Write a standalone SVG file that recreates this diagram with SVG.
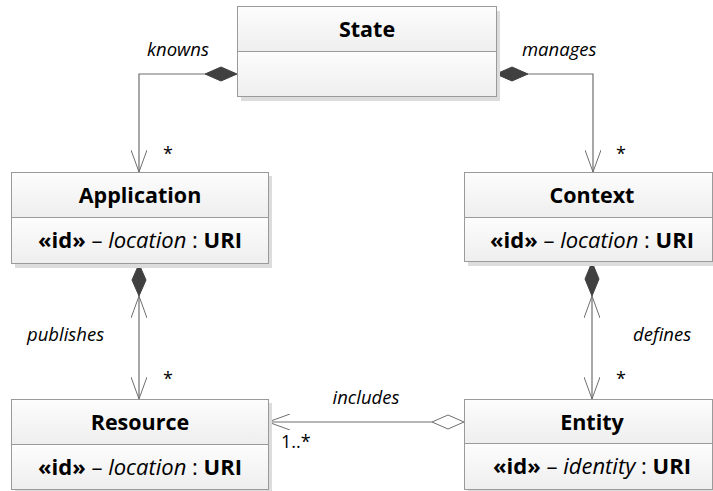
<svg xmlns="http://www.w3.org/2000/svg" width="713" height="491" viewBox="0 0 713 491">
  <defs>
    <linearGradient id="cmp" x1="0" y1="0" x2="0" y2="1">
      <stop offset="0" stop-color="#fdfdfd"/>
      <stop offset="1" stop-color="#eeeeee"/>
    </linearGradient>
    <marker id="open" viewBox="0 0 24 16" refX="22" refY="8" markerWidth="24" markerHeight="16" markerUnits="userSpaceOnUse" orient="auto">
      <path d="M0,0 L22,8 L0,16" fill="none" stroke="#6e6e6e" stroke-width="1"/>
    </marker>
    <marker id="openStart" viewBox="0 0 24 16" refX="2" refY="8" markerWidth="24" markerHeight="16" markerUnits="userSpaceOnUse" orient="auto">
      <path d="M24,0 L2,8 L24,16" fill="none" stroke="#6e6e6e" stroke-width="1"/>
    </marker>
  </defs>
  <style>
    .shadow { fill: #dcdcdc; }
    .box { fill: url(#cmp); stroke: #9a9a9a; stroke-width: 1; }
    .title { font-family: "Open Sans", "Noto Sans", sans-serif; font-weight: bold; font-size: 21.5px; fill: #000; text-anchor: middle; }
    .attr { font-family: "Open Sans", "Noto Sans", sans-serif; font-size: 22px; fill: #000; text-anchor: middle; }
    .b { font-weight: bold; }
    .i { font-style: italic; }
    .lbl { font-family: "Open Sans", "Noto Sans", sans-serif; font-style: italic; font-size: 18.5px; fill: #000; }
    .mult { font-family: "Open Sans", "Noto Sans", sans-serif; font-size: 18px; fill: #000; }
    .line { fill: none; stroke: #6e6e6e; stroke-width: 1.2; }
    .comp { fill: #404040; stroke: #404040; stroke-width: 1; }
    .agg { fill: #ffffff; stroke: #6e6e6e; stroke-width: 1; }
  </style>

  <!-- connectors -->
  <g id="connectors">
    <!-- State knowns Application -->
    <path class="line" d="M205,74 H139 V172" marker-end="url(#open)"/>
    <path class="comp" d="M237,74 L221,67 L205,74 L221,81 Z"/>
    <!-- State manages Context -->
    <path class="line" d="M528,74 H593 V172" marker-end="url(#open)"/>
    <path class="comp" d="M496,74 L512,67 L528,74 L512,81 Z"/>
    <!-- Application publishes Resource -->
    <path class="line" d="M139,296 V399" marker-start="url(#openStart)" marker-end="url(#open)"/>
    <path class="comp" d="M139,264 L132,280 L139,296 L146,280 Z"/>
    <!-- Context defines Entity -->
    <path class="line" d="M592,296 V399" marker-start="url(#openStart)" marker-end="url(#open)"/>
    <path class="comp" d="M592,262 L585,279 L592,296 L599,279 Z"/>
    <!-- Entity includes Resource -->
    <path class="line" d="M432,422 H268" marker-end="url(#open)"/>
    <path class="agg" d="M464,422 L448,415 L432,422 L448,429 Z"/>

    <text class="lbl" x="147" y="56">knowns</text>
    <text class="lbl" x="522" y="56">manages</text>
    <text class="lbl" x="27" y="341">publishes</text>
    <text class="lbl" x="633" y="341">defines</text>
    <text class="lbl" x="366" y="404" text-anchor="middle">includes</text>
    <text class="mult" x="163" y="160">*</text>
    <text class="mult" x="616" y="160">*</text>
    <text class="mult" x="163" y="385">*</text>
    <text class="mult" x="616" y="385">*</text>
    <text class="mult" x="281" y="448">1..*</text>
  </g>

  <!-- State -->
  <g id="state">
    <rect class="shadow" x="241" y="11" width="259" height="90"/>
    <rect class="box" x="237.5" y="6.5" width="259" height="45"/>
    <rect class="box" x="237.5" y="51.5" width="259" height="45"/>
    <text class="title" x="367" y="37">State</text>
  </g>

  <!-- Application -->
  <g id="application">
    <rect class="shadow" x="15" y="176" width="257" height="92"/>
    <rect class="box" x="11.5" y="172.5" width="257" height="45"/>
    <rect class="box" x="11.5" y="217.5" width="257" height="46"/>
    <text class="title" x="140" y="203">Application</text>
    <text class="attr" x="140" y="248"><tspan class="b">«id»</tspan> – <tspan class="i">location</tspan> : <tspan class="b">URI</tspan></text>
  </g>

  <!-- Context -->
  <g id="context">
    <rect class="shadow" x="468" y="176" width="248" height="90"/>
    <rect class="box" x="464.5" y="172.5" width="248" height="45"/>
    <rect class="box" x="464.5" y="217.5" width="248" height="44"/>
    <text class="title" x="592" y="203">Context</text>
    <text class="attr" x="592" y="248"><tspan class="b">«id»</tspan> – <tspan class="i">location</tspan> : <tspan class="b">URI</tspan></text>
  </g>

  <!-- Resource -->
  <g id="resource">
    <rect class="shadow" x="15" y="403" width="257" height="92"/>
    <rect class="box" x="11.5" y="399.5" width="257" height="45"/>
    <rect class="box" x="11.5" y="444.5" width="257" height="45"/>
    <text class="title" x="140" y="430">Resource</text>
    <text class="attr" x="140" y="475"><tspan class="b">«id»</tspan> – <tspan class="i">location</tspan> : <tspan class="b">URI</tspan></text>
  </g>

  <!-- Entity -->
  <g id="entity">
    <rect class="shadow" x="468" y="403" width="248" height="92"/>
    <rect class="box" x="464.5" y="399.5" width="248" height="44"/>
    <rect class="box" x="464.5" y="443.5" width="248" height="46"/>
    <text class="title" x="592" y="430">Entity</text>
    <text class="attr" x="592" y="474"><tspan class="b">«id»</tspan> – <tspan class="i">identity</tspan> : <tspan class="b">URI</tspan></text>
  </g>
</svg>
